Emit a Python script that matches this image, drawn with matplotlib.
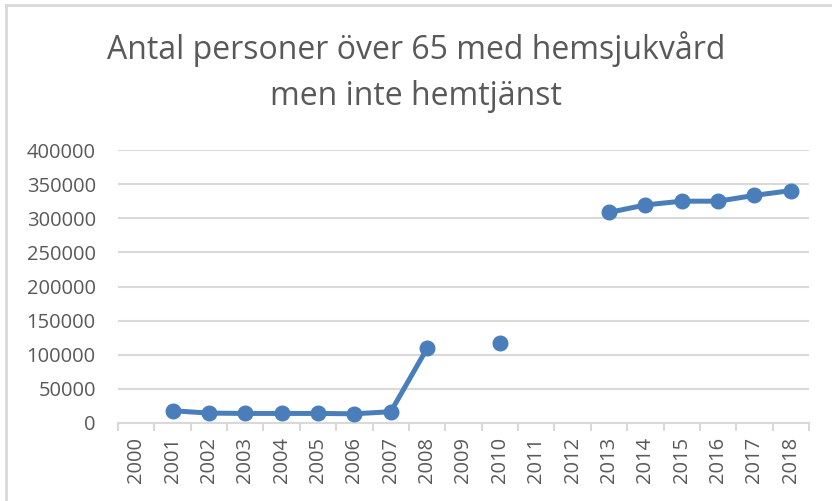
import numpy as np
import matplotlib.pyplot as plt
from matplotlib.lines import Line2D

years = [str(y) for y in range(2000, 2019)]
values = [np.nan, 18000, 14500, 14000, 14000, 14000, 13500, 16500, 109500,
          np.nan, 116500, np.nan, np.nan, 308500, 319500, 325000, 325000,
          333500, 340500]
y_ticks = [0, 50000, 100000, 150000, 200000, 250000, 300000, 350000, 400000]

TEXT = "#595959"
GRID = "#d9d9d9"
LINE = "#4a7ebb"

fig = plt.figure(figsize=(8.32, 5.01), dpi=100)
# outer frame: only the top and left edges show in the crop
bx, by = 6 / 832, 1 - 5 / 501
fig.lines.append(Line2D([bx, 1], [by, by], transform=fig.transFigure, color=GRID, linewidth=2))
fig.lines.append(Line2D([bx, bx], [0, by], transform=fig.transFigure, color=GRID, linewidth=2))

ax = fig.add_axes([118 / 832, (501 - 423) / 501, 691 / 832, 273 / 501])
x = np.arange(len(years))
ax.plot(x, values, color=LINE, linewidth=3.6, marker="o", markersize=10.5,
        solid_capstyle="round", zorder=3)

ax.set_xlim(-0.5, len(years) - 0.5)
ax.set_ylim(0, 400000)
ax.set_yticks(y_ticks)
ax.set_yticklabels([str(v) for v in y_ticks])
ax.set_xticks(x)
ax.set_xticklabels(years, rotation=90)
ax.set_xticks(np.arange(-0.5, len(years)), minor=True)

ax.grid(axis="y", color=GRID, linewidth=1.5)
ax.set_axisbelow(True)
for s in ["top", "right", "left"]:
    ax.spines[s].set_visible(False)
ax.spines["bottom"].set_color(GRID)
ax.spines["bottom"].set_linewidth(1.5)

ax.tick_params(axis="y", length=0, pad=16, labelsize=14.5, labelcolor=TEXT)
ax.tick_params(axis="x", which="major", length=0, pad=10, labelsize=14.5, labelcolor=TEXT)
ax.tick_params(axis="x", which="minor", length=6, width=1.5, color=GRID)
for lbl in ax.get_xticklabels() + ax.get_yticklabels():
    lbl.set_fontfamily("Open Sans")

fig.text(0.5, 1 - 72 / 501, "Antal personer över 65 med hemsjukvård\nmen inte hemtjänst",
         ha="center", va="center", fontsize=23, color=TEXT, family="Open Sans",
         linespacing=1.5)

fig.savefig("out.png", dpi=100)
